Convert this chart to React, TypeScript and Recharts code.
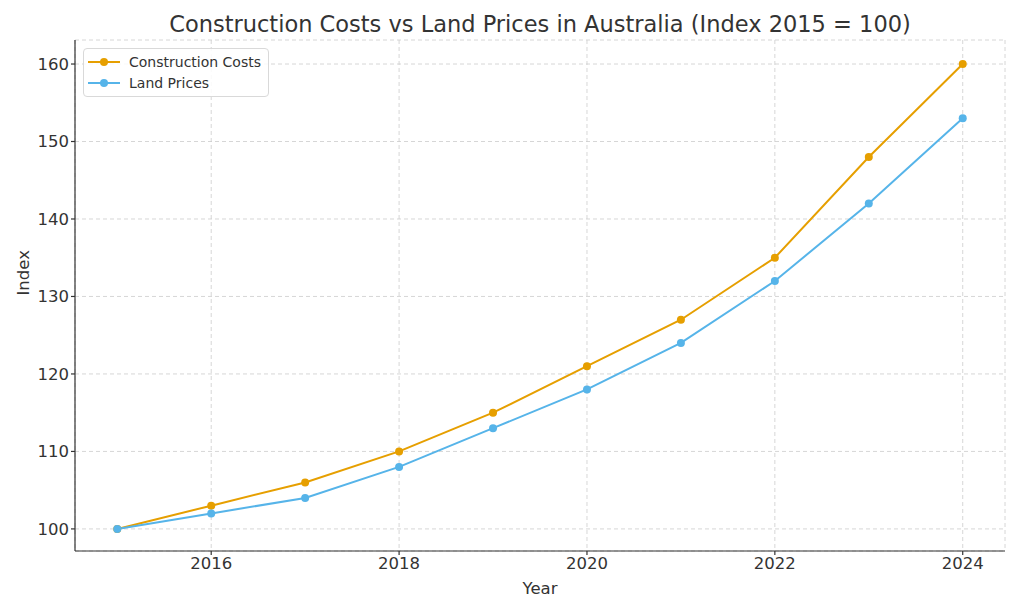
import { LineChart, Line, XAxis, YAxis, CartesianGrid } from "recharts";

const years = [2015, 2016, 2017, 2018, 2019, 2020, 2021, 2022, 2023, 2024];
const constructionCosts = [100, 103, 106, 110, 115, 121, 127, 135, 148, 160];
const landPrices = [100, 102, 104, 108, 113, 118, 124, 132, 142, 153];
const xTicks = [2016, 2018, 2020, 2022, 2024];
const yTicks = [100, 110, 120, 130, 140, 150, 160];

const SERIES = [
  { key: "construction", name: "Construction Costs", color: "#E69F00" },
  { key: "land", name: "Land Prices", color: "#56B4E9" },
];

const data = years.map((year, i) => ({
  year,
  construction: constructionCosts[i],
  land: landPrices[i],
}));

const FONT = "'DejaVu Sans', sans-serif";

function ChartLegend() {
  return (
    <div
      style={{
        position: "absolute",
        left: 83,
        top: 48,
        border: "1px solid #d9d9d9",
        borderRadius: 4,
        background: "rgba(255,255,255,0.85)",
        padding: "2px 7px 3px 4px",
        fontSize: 14,
        color: "#333",
      }}
    >
      {SERIES.map((s) => (
        <div key={s.key} style={{ display: "flex", alignItems: "center", height: 21 }}>
          <svg width={32} height={10} style={{ marginRight: 9 }}>
            <line x1={0} y1={5} x2={32} y2={5} stroke={s.color} strokeWidth={2} />
            <circle cx={16} cy={5} r={4} fill={s.color} />
          </svg>
          <span>{s.name}</span>
        </div>
      ))}
    </div>
  );
}

export default function App() {
  return (
    <div
      style={{
        position: "absolute",
        left: 0,
        top: 0,
        width: 1024,
        height: 614,
        background: "#fff",
        fontFamily: FONT,
      }}
    >
      <div
        style={{
          position: "absolute",
          top: 11,
          left: 75,
          width: 930,
          textAlign: "center",
          fontSize: 22.5,
          color: "#333",
        }}
      >
        Construction Costs vs Land Prices in Australia (Index 2015 = 100)
      </div>
      <LineChart
        width={1024}
        height={614}
        data={data}
        margin={{ top: 40, right: 19, bottom: 33, left: 0 }}
      >
        <CartesianGrid stroke="#cccccc" strokeDasharray="4 3" strokeWidth={0.8} />
        <XAxis
          dataKey="year"
          type="number"
          domain={[2014.55, 2024.45]}
          ticks={xTicks}
          allowDataOverflow
          height={30}
          stroke="#333"
          strokeWidth={1.2}
          tickSize={4}
          tick={{ fill: "#333", fontSize: 16.5, fontFamily: FONT }}
          label={{ value: "Year", position: "insideBottom", offset: -13, fill: "#333", fontSize: 16.5, fontFamily: FONT }}
        />
        <YAxis
          type="number"
          domain={[97.15, 163.1]}
          ticks={yTicks}
          allowDataOverflow
          width={75}
          stroke="#333"
          strokeWidth={1.2}
          tickSize={4}
          tick={{ fill: "#333", fontSize: 16.5, fontFamily: FONT }}
          label={{ value: "Index", angle: -90, position: "insideLeft", offset: 23, fill: "#333", fontSize: 16.5, fontFamily: FONT }}
        />
        {SERIES.map((s) => (
          <Line
            key={s.key}
            type="linear"
            dataKey={s.key}
            name={s.name}
            stroke={s.color}
            strokeWidth={2}
            dot={{ r: 4, fill: s.color, stroke: "none" }}
            activeDot={false}
            isAnimationActive={false}
          />
        ))}
      </LineChart>
      <ChartLegend />
    </div>
  );
}
